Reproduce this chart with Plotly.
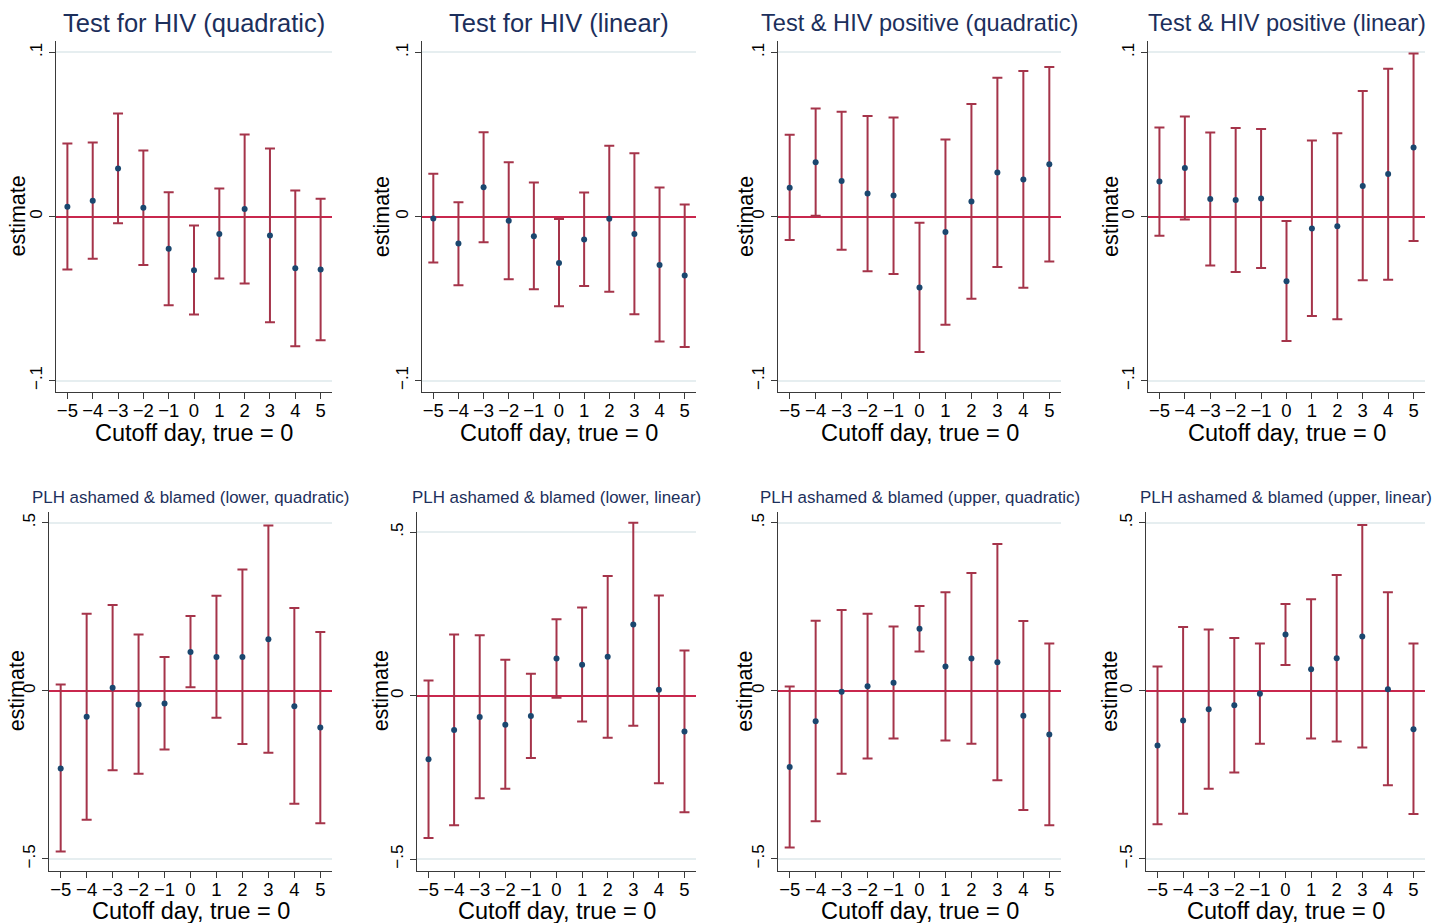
import plotly.graph_objects as go

W, H = 1433, 923

days = [-5, -4, -3, -2, -1, 0, 1, 2, 3, 4, 5]

titles = [
    "Test for HIV (quadratic)", "Test for HIV (linear)",
    "Test & HIV positive (quadratic)", "Test & HIV positive (linear)",
    "PLH ashamed & blamed (lower, quadratic)", "PLH ashamed & blamed (lower, linear)",
    "PLH ashamed & blamed (upper, quadratic)", "PLH ashamed & blamed (upper, linear)",
]

est_test_quad = [0.0059, 0.0096, 0.0293, 0.0053, -0.0197, -0.0327, -0.0106, 0.0045, -0.0116, -0.0315, -0.0323]
lo_test_quad = [-0.0323, -0.0258, -0.0041, -0.0295, -0.0541, -0.0598, -0.0378, -0.0409, -0.0644, -0.0791, -0.0754]
hi_test_quad = [0.0445, 0.0451, 0.0628, 0.0402, 0.0148, -0.0055, 0.0171, 0.0500, 0.0415, 0.0159, 0.0108]

est_test_lin = [-0.0012, -0.0165, 0.0179, -0.0026, -0.0120, -0.0283, -0.0140, -0.0014, -0.0106, -0.0295, -0.0360]
lo_test_lin = [-0.0280, -0.0419, -0.0157, -0.0382, -0.0443, -0.0547, -0.0423, -0.0459, -0.0596, -0.0762, -0.0795]
hi_test_lin = [0.0260, 0.0087, 0.0514, 0.0331, 0.0207, -0.0016, 0.0146, 0.0431, 0.0386, 0.0177, 0.0073]

est_pos_quad = [0.0176, 0.0330, 0.0217, 0.0140, 0.0128, -0.0433, -0.0095, 0.0091, 0.0269, 0.0225, 0.0318]
lo_pos_quad = [-0.0144, 0.0004, -0.0202, -0.0334, -0.0350, -0.0826, -0.0660, -0.0502, -0.0308, -0.0435, -0.0275]
hi_pos_quad = [0.0498, 0.0658, 0.0638, 0.0613, 0.0603, -0.0038, 0.0470, 0.0686, 0.0846, 0.0887, 0.0911]

est_pos_lin = [0.0213, 0.0296, 0.0107, 0.0101, 0.0109, -0.0395, -0.0073, -0.0059, 0.0186, 0.0259, 0.0421]
lo_pos_lin = [-0.0117, -0.0018, -0.0298, -0.0338, -0.0314, -0.0759, -0.0607, -0.0626, -0.0389, -0.0385, -0.0150]
hi_pos_lin = [0.0543, 0.0609, 0.0512, 0.0540, 0.0534, -0.0028, 0.0464, 0.0508, 0.0765, 0.0901, 0.0994]

est_low_quad = [-0.2307, -0.0772, 0.0089, -0.0406, -0.0376, 0.1158, 0.1010, 0.1010, 0.1535, -0.0455, -0.1089]
lo_low_quad = [-0.4782, -0.3832, -0.2366, -0.2465, -0.1743, 0.0109, -0.0802, -0.1584, -0.1842, -0.3356, -0.3940]
hi_low_quad = [0.0188, 0.2297, 0.2554, 0.1673, 0.1010, 0.2228, 0.2832, 0.3614, 0.4921, 0.2465, 0.1752]

est_low_lin = [-0.1945, -0.1049, -0.0652, -0.0886, -0.0621, 0.1141, 0.0947, 0.1191, 0.2179, 0.0183, -0.1090]
lo_low_lin = [-0.4348, -0.3961, -0.3136, -0.2841, -0.1904, -0.0061, -0.0784, -0.1283, -0.0916, -0.2678, -0.3564]
hi_low_lin = [0.0468, 0.1874, 0.1853, 0.1100, 0.0672, 0.2342, 0.2699, 0.3666, 0.5295, 0.3065, 0.1385]

est_up_quad = [-0.2267, -0.0901, -0.0030, 0.0139, 0.0238, 0.1851, 0.0723, 0.0960, 0.0851, -0.0743, -0.1297]
lo_up_quad = [-0.4663, -0.3881, -0.2465, -0.2010, -0.1416, 0.1168, -0.1475, -0.1574, -0.2663, -0.3545, -0.4000]
hi_up_quad = [0.0129, 0.2089, 0.2406, 0.2297, 0.1911, 0.2525, 0.2931, 0.3505, 0.4366, 0.2079, 0.1406]

est_up_lin = [-0.1624, -0.0881, -0.0545, -0.0426, -0.0089, 0.1673, 0.0644, 0.0970, 0.1614, 0.0050, -0.1139]
lo_up_lin = [-0.3970, -0.3653, -0.2911, -0.2426, -0.1574, 0.0772, -0.1416, -0.1505, -0.1683, -0.2812, -0.3663]
hi_up_lin = [0.0723, 0.1901, 0.1822, 0.1574, 0.1406, 0.2584, 0.2723, 0.3446, 0.4931, 0.2931, 0.1406]

ytick_top_vals = [-0.1, 0, 0.1]
ytick_top_text = ["\u2212.1", "0", ".1"]
ytick_bot_vals = [-0.5, 0, 0.5]
ytick_bot_text = ["\u2212.5", "0", ".5"]

panels = [
    (est_test_quad, lo_test_quad, hi_test_quad),
    (est_test_lin, lo_test_lin, hi_test_lin),
    (est_pos_quad, lo_pos_quad, hi_pos_quad),
    (est_pos_lin, lo_pos_lin, hi_pos_lin),
    (est_low_quad, lo_low_quad, hi_low_quad),
    (est_low_lin, lo_low_lin, hi_low_lin),
    (est_up_quad, lo_up_quad, hi_up_quad),
    (est_up_lin, lo_up_lin, hi_up_lin),
]

# ---- layout geometry (pixels) ----
xdom_px = [(56, 332), (422, 696), (778, 1061), (1148, 1425),
           (49, 332), (417, 696), (778, 1061), (1146, 1425)]
ydom_px = [(41, 392)] * 4 + [(511.7, 871)] * 4
yranges = [[-0.107, 0.107]] * 4 + [[-0.536, 0.533], [-0.536, 0.563], [-0.536, 0.533], [-0.536, 0.533]]
title_sizes = [25.5, 25.5, 23.6, 23.6, 16.9, 16.9, 16.9, 16.9]
title_y_px = [23, 23, 23, 23, 497, 497, 497, 497]
xtitle_y_px = [433] * 4 + [911] * 4
ytitle_x_px = [17, 381.7, 745.5, 1110.5, 17, 381, 745.5, 1110.5]

FONT = "Liberation Sans, Arial, sans-serif"
ERR_COL = "#a5344a"
ZERO_COL = "#c9274d"
DOT_COL = "#1a476f"
TITLE_COL = "#1c2f5c"
AXIS_COL = "#3a3a3a"
GRID_COL = "#e6eef0"


def px_x(v):
    return v / W


def px_y(v):
    return 1 - v / H


fig = go.Figure()
annotations = []
layout = {}

for i, (est, lo, hi) in enumerate(panels):
    k = i + 1
    xa = "x" if k == 1 else f"x{k}"
    ya = "y" if k == 1 else f"y{k}"
    plus = [h - e for h, e in zip(hi, est)]
    minus = [e - l for e, l in zip(est, lo)]
    fig.add_trace(go.Scatter(
        x=days, y=est, mode="markers", xaxis=xa, yaxis=ya,
        marker=dict(color=DOT_COL, size=6),
        error_y=dict(type="data", symmetric=False, array=plus, arrayminus=minus,
                     color=ERR_COL, thickness=2, width=5),
        showlegend=False, cliponaxis=False,
    ))

    top = i < 4
    x0, x1 = xdom_px[i]
    yt, yb = ydom_px[i]
    layout[f"xaxis{k}"] = dict(
        domain=[px_x(x0), px_x(x1)], anchor=ya, range=[-5.45, 5.45],
        tickvals=days, ticks="outside", ticklen=6, tickwidth=1.3, tickcolor=AXIS_COL,
        ticklabelstandoff=-4,
        showline=True, linecolor=AXIS_COL, linewidth=1.3, showgrid=False, zeroline=False,
        tickfont=dict(family=FONT, size=18.5, color="#000000"), fixedrange=True,
    )
    layout[f"yaxis{k}"] = dict(
        domain=[px_y(yb), px_y(yt)], anchor=xa, range=yranges[i],
        tickvals=ytick_top_vals if top else ytick_bot_vals,
        ticktext=ytick_top_text if top else ytick_bot_text,
        tickangle=-90, ticks="outside", ticklen=6, tickwidth=1.3, tickcolor=AXIS_COL,
        showline=True, linecolor=AXIS_COL, linewidth=1.3,
        showgrid=True, gridcolor=GRID_COL, gridwidth=1.5,
        zeroline=True, zerolinecolor=ZERO_COL, zerolinewidth=2,
        tickfont=dict(family=FONT, size=17, color="#000000"), fixedrange=True,
    )
    cx = (x0 + x1) / 2
    annotations.append(dict(
        text=titles[i], x=px_x(cx), y=px_y(title_y_px[i]), xref="paper", yref="paper",
        xanchor="center", yanchor="middle", showarrow=False,
        font=dict(family=FONT, size=title_sizes[i], color=TITLE_COL),
    ))
    annotations.append(dict(
        text="Cutoff day, true = 0", x=px_x(cx), y=px_y(xtitle_y_px[i]), xref="paper", yref="paper",
        xanchor="center", yanchor="middle", showarrow=False,
        font=dict(family=FONT, size=23.5, color="#000000"),
    ))
    annotations.append(dict(
        text="estimate", x=px_x(ytitle_x_px[i]), y=px_y((yt + yb) / 2), xref="paper", yref="paper",
        xanchor="center", yanchor="middle", showarrow=False, textangle=-90,
        font=dict(family=FONT, size=21.5, color="#000000"),
    ))

fig.update_layout(
    width=W, height=H, margin=dict(l=0, r=0, t=0, b=0),
    paper_bgcolor="white", plot_bgcolor="white",
    annotations=annotations, showlegend=False, **layout,
)

fig.write_html(
    "out.html",
    config={"displayModeBar": False},
    post_script="document.body.style.margin='0px';document.body.style.overflow='hidden';",
)
